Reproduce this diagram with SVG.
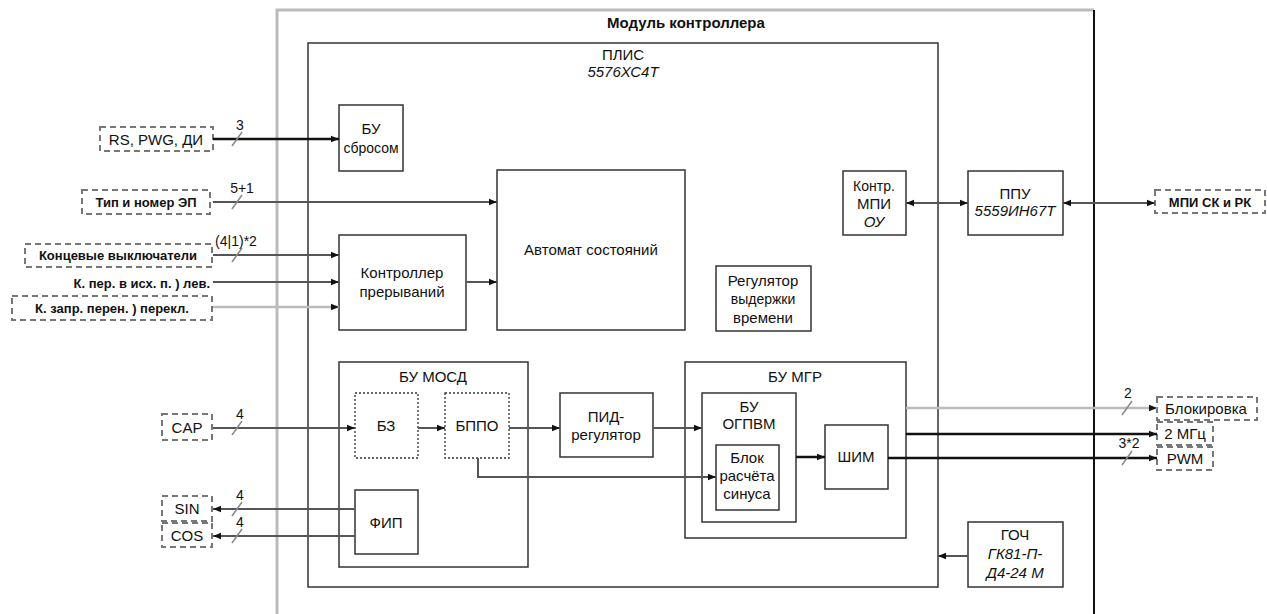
<svg xmlns="http://www.w3.org/2000/svg" width="1267" height="614" viewBox="0 0 1267 614">
<defs>
<marker id="ah" viewBox="0 0 10 10" refX="10" refY="5" markerWidth="8" markerHeight="8" markerUnits="userSpaceOnUse" orient="auto-start-reverse">
<path d="M0,1 L10,5 L0,9 z" fill="#111"/>
</marker>
<style>
text{font-family:"Liberation Sans",Arial,sans-serif;font-size:15px;fill:#111}
.box{fill:#fff;stroke:#333;stroke-width:1.5}
.dot{fill:#fff;stroke:#333;stroke-width:1.3;stroke-dasharray:2 2}
.ext{fill:#fff;stroke:#777;stroke-width:2;stroke-dasharray:6 4}
.ln{fill:none;stroke:#555;stroke-width:2}
.lnb{fill:none;stroke:#111;stroke-width:2.5}
.lng{fill:none;stroke:#bbb;stroke-width:2.5}
.sl{stroke:#888;stroke-width:1.5}
.it{font-style:italic}
.b{font-weight:bold}
.eb{font-weight:bold;font-size:13px}
.n{font-size:14px}
.c{text-anchor:middle}
.r{text-anchor:end}
</style>
</defs>
<rect width="1267" height="614" fill="#fff"/>

<g id="module">
<path d="M277,614 L277,10 L1094,10" fill="none" stroke="#bbb" stroke-width="3"/>
<line x1="1094" y1="10" x2="1094" y2="614" stroke="#111" stroke-width="2"/>
<text x="686" y="28" class="c b" font-size="16">Модуль контроллера</text>
</g>

<g id="plis">
<rect x="308" y="43" width="630" height="544" class="box"/>
<text x="623" y="60" class="c">ПЛИС</text>
<text x="623" y="77" class="c it">5576ХС4Т</text>
</g>

<g id="bu-sbros">
<rect x="339" y="105" width="64" height="66" class="box"/>
<text x="371" y="134" class="c">БУ</text>
<text x="371" y="153" class="c n">сбросом</text>
</g>

<g id="automat">
<rect x="497" y="170" width="188" height="160" class="box"/>
<text x="591" y="255" class="c">Автомат состояний</text>
</g>

<g id="kontr-prer">
<rect x="339" y="235" width="127" height="95" class="box"/>
<text x="402" y="278" class="c">Контроллер</text>
<text x="402" y="297" class="c">прерываний</text>
</g>

<g id="reg-vyd">
<rect x="716" y="266" width="95" height="65" class="box"/>
<text x="763" y="286" class="c">Регулятор</text>
<text x="763" y="304" class="c n">выдержки</text>
<text x="763" y="323" class="c">времени</text>
</g>

<g id="kontr-mpi">
<rect x="843" y="171" width="63" height="64" class="box"/>
<text x="874" y="191" class="c n">Контр.</text>
<text x="874" y="209" class="c">МПИ</text>
<text x="874" y="227" class="c it">ОУ</text>
</g>

<g id="ppu">
<rect x="968" y="171" width="95" height="64" class="box"/>
<text x="1015" y="199" class="c">ППУ</text>
<text x="1015" y="216" class="c it">5559ИН67Т</text>
</g>

<g id="bu-mosd">
<rect x="339" y="362" width="189" height="205" class="box"/>
<text x="433" y="382" class="c">БУ МОСД</text>
</g>

<g id="bz">
<rect x="355" y="393" width="63" height="65" class="dot"/>
<text x="386" y="431" class="c">БЗ</text>
</g>

<g id="bppo">
<rect x="445" y="393" width="64" height="65" class="dot"/>
<text x="477" y="431" class="c">БППО</text>
</g>

<g id="fip">
<rect x="355" y="490" width="63" height="64" class="box"/>
<text x="386" y="528" class="c">ФИП</text>
</g>

<g id="pid">
<rect x="560" y="393" width="93" height="64" class="box"/>
<text x="606" y="422" class="c">ПИД-</text>
<text x="606" y="440" class="c">регулятор</text>
</g>

<g id="bu-mgr">
<rect x="685" y="362" width="221" height="176" class="box"/>
<text x="795" y="382" class="c">БУ МГР</text>
</g>

<g id="bu-ogpvm">
<rect x="702" y="393" width="94" height="129" class="box"/>
<text x="749" y="412" class="c">БУ</text>
<text x="749" y="429" class="c">ОГПВМ</text>
</g>

<g id="blok-sin">
<rect x="716" y="445" width="63" height="65" class="box"/>
<text x="747" y="463" class="c">Блок</text>
<text x="747" y="481" class="c">расчёта</text>
<text x="747" y="499" class="c">синуса</text>
</g>

<g id="shim">
<rect x="825" y="425" width="63" height="64" class="box"/>
<text x="856" y="462" class="c">ШИМ</text>
</g>

<g id="goch">
<rect x="968" y="522" width="95" height="65" class="box"/>
<text x="1015" y="540" class="c">ГОЧ</text>
<text x="1015" y="559" class="c it">ГК81-П-</text>
<text x="1015" y="578" class="c it">Д4-24 М</text>
</g>

<g id="ext-rs">
<rect x="100" y="127" width="113" height="24" class="ext"/>
<text x="156" y="145" class="c">RS, PWG, ДИ</text>
</g>
<g id="ext-tip">
<rect x="82" y="190" width="128" height="24" class="ext"/>
<text x="146" y="207" class="c eb">Тип и номер ЭП</text>
</g>
<g id="ext-konc">
<rect x="25" y="244" width="187" height="23" class="ext"/>
<text x="118" y="260" class="c eb">Концевые выключатели</text>
</g>
<g id="ext-kper">
<text x="210" y="288" class="r eb">К. пер. в исх. п. ) лев.</text>
</g>
<g id="ext-kzapr">
<rect x="12" y="296" width="200" height="24" class="ext"/>
<text x="112" y="313" class="c eb">К. запр. перен. ) перекл.</text>
</g>
<g id="ext-cap">
<rect x="162" y="414" width="50" height="26" class="ext"/>
<text x="187" y="433" class="c">CAP</text>
</g>
<g id="ext-sin">
<rect x="162" y="496" width="50" height="25" class="ext"/>
<text x="187" y="514" class="c">SIN</text>
</g>
<g id="ext-cos">
<rect x="162" y="523" width="50" height="24" class="ext"/>
<text x="187" y="541" class="c">COS</text>
</g>
<g id="ext-mpi">
<rect x="1155" y="190" width="110" height="23" class="ext"/>
<text x="1210" y="207" class="c eb">МПИ СК и РК</text>
</g>
<g id="ext-blok">
<rect x="1157" y="397" width="100" height="23" class="ext"/>
<text x="1206" y="414" class="c">Блокировка</text>
</g>
<g id="ext-2mhz">
<rect x="1157" y="422" width="56" height="23" class="ext"/>
<text x="1185" y="439" class="c">2 МГц</text>
</g>
<g id="ext-pwm">
<rect x="1157" y="447" width="56" height="23" class="ext"/>
<text x="1185" y="464" class="c">PWM</text>
</g>

<g id="connectors">
<line x1="213" y1="139" x2="339" y2="139" class="lnb" stroke-width="2" marker-end="url(#ah)"/>
<line x1="213" y1="202" x2="497" y2="202" class="ln" marker-end="url(#ah)"/>
<line x1="213" y1="255" x2="339" y2="255" class="ln" marker-end="url(#ah)"/>
<line x1="213" y1="282" x2="339" y2="282" class="ln" marker-end="url(#ah)"/>
<line x1="213" y1="307" x2="339" y2="307" class="lng" marker-end="url(#ah)"/>
<line x1="466" y1="282" x2="497" y2="282" class="ln" stroke-width="1.5" marker-end="url(#ah)"/>
<line x1="906" y1="203" x2="968" y2="203" class="ln" marker-start="url(#ah)" marker-end="url(#ah)"/>
<line x1="1063" y1="203" x2="1155" y2="203" class="ln" marker-start="url(#ah)" marker-end="url(#ah)"/>
<line x1="213" y1="428" x2="355" y2="428" class="ln" marker-end="url(#ah)"/>
<line x1="418" y1="428" x2="445" y2="428" class="ln" marker-end="url(#ah)"/>
<line x1="509" y1="428" x2="560" y2="428" class="ln" marker-end="url(#ah)"/>
<line x1="653" y1="428" x2="702" y2="428" class="ln" marker-end="url(#ah)"/>
<polyline points="478,458 478,477 716,477" class="ln" stroke-width="1.5" marker-end="url(#ah)"/>
<line x1="796" y1="457" x2="825" y2="457" class="lnb" stroke-width="2" marker-end="url(#ah)"/>
<line x1="355" y1="509" x2="213" y2="509" class="ln" marker-end="url(#ah)"/>
<line x1="355" y1="536" x2="213" y2="536" class="ln" marker-end="url(#ah)"/>
<line x1="906" y1="408" x2="1157" y2="408" class="lng" marker-end="url(#ah)"/>
<line x1="906" y1="434" x2="1157" y2="434" class="lnb" marker-end="url(#ah)"/>
<line x1="888" y1="458" x2="1157" y2="458" class="lnb" marker-end="url(#ah)"/>
<line x1="968" y1="556" x2="938" y2="556" class="ln" marker-end="url(#ah)"/>
<line x1="232" y1="146" x2="242" y2="132" class="sl"/>
<line x1="232" y1="209" x2="242" y2="195" class="sl"/>
<line x1="232" y1="262" x2="242" y2="248" class="sl"/>
<line x1="232" y1="435" x2="242" y2="421" class="sl"/>
<line x1="232" y1="516" x2="242" y2="502" class="sl"/>
<line x1="232" y1="543" x2="242" y2="529" class="sl"/>
<line x1="1122" y1="415" x2="1132" y2="401" class="sl"/>
<line x1="1122" y1="465" x2="1132" y2="451" class="sl"/>
<text x="240" y="130" class="c n">3</text>
<text x="242" y="193" class="c n">5+1</text>
<text x="236" y="246" class="c n">(4|1)*2</text>
<text x="240" y="419" class="c n">4</text>
<text x="240" y="500" class="c n">4</text>
<text x="240" y="527" class="c n">4</text>
<text x="1128" y="398" class="c n">2</text>
<text x="1129" y="448" class="c n">3*2</text>
</g>
</svg>
